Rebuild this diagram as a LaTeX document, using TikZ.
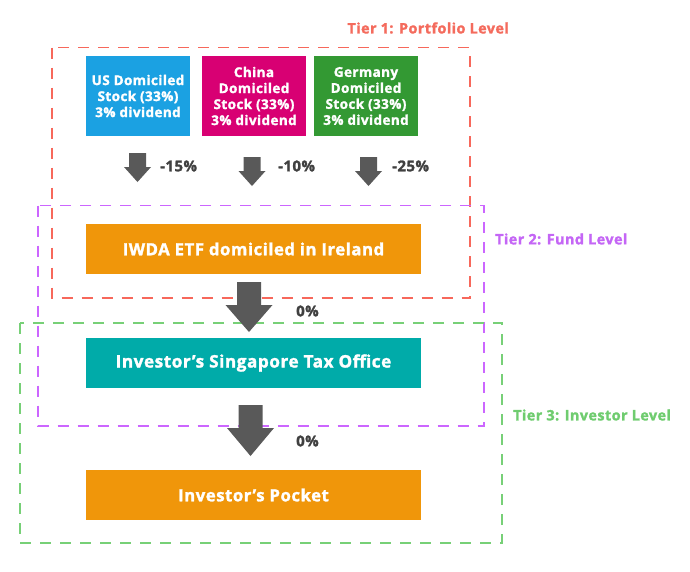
\documentclass[tikz,border=0pt]{standalone}
\usepackage{fontspec}
\setmainfont{Open Sans}[BoldFeatures={FakeBold=1.6, LetterSpace=3}]
\definecolor{tierred}{HTML}{F7685B}
\definecolor{tierpurple}{HTML}{CC66FF}
\definecolor{tiergreen}{HTML}{77D077}
\definecolor{lblred}{HTML}{F46B5D}
\definecolor{lblpurple}{HTML}{C466F5}
\definecolor{lblgreen}{HTML}{6FCC6F}
\definecolor{usblue}{HTML}{1BA1E2}
\definecolor{cnmag}{HTML}{D80073}
\definecolor{degreen}{HTML}{339933}
\definecolor{boxorange}{HTML}{F0960A}
\definecolor{boxteal}{HTML}{00ABA9}
\definecolor{arrowgray}{HTML}{595959}
\definecolor{pctgray}{HTML}{404040}
\tikzset{
  tierbox/.style={line width=1.5pt, dash pattern=on 11pt off 9pt},
  stockbox/.style={minimum width=104pt, minimum height=80pt, inner sep=0pt, text=white,
    font=\bfseries\fontsize{13.5}{16}\selectfont, align=center},
  widebox/.style={minimum width=335pt, minimum height=50pt, inner sep=0pt, text=white,
    font=\bfseries\fontsize{16.8}{19}\selectfont},
  pct/.style={text=pctgray, font=\bfseries\fontsize{15}{17}\selectfont, inner sep=0pt},
  tierlbl/.style={font=\bfseries\fontsize{14.4}{17}\selectfont, inner sep=0pt},
  blockarrow/.style={fill=arrowgray, draw=none}
}
\begin{document}
\begin{tikzpicture}[x=1pt, y=-1pt]
\useasboundingbox (0,0) rectangle (690,571);
% tier boxes
\draw[tierbox, tierred] (52,47.5) rectangle (470,298);
\draw[tierbox, tierpurple] (38,205.5) rectangle (484,426);
\draw[tierbox, tiergreen] (20,323) rectangle (502,543);
% tier labels
\node[tierlbl, text=lblred, anchor=east] (t1) at (509,28) {Tier 1: Portfolio Level};
\node[tierlbl, text=lblpurple, anchor=west] (t2) at (495,239) {Tier 2: Fund Level};
\node[tierlbl, text=lblgreen, anchor=west] (t3) at (513,415) {Tier 3: Investor Level};
% stock boxes
\node[stockbox, fill=usblue] (us) at (138,96) {US Domiciled\\Stock (33\%)\\3\% dividend};
\node[stockbox, fill=cnmag] (cn) at (254,96) {China\\Domiciled\\Stock (33\%)\\3\% dividend};
\node[stockbox, fill=degreen] (de) at (366,96) {Germany\\Domiciled\\Stock (33\%)\\3\% dividend};
% wide boxes
\node[widebox, fill=boxorange] (etf) at (253.5,249) {IWDA ETF domiciled in Ireland};
\node[widebox, fill=boxteal, font=\bfseries\fontsize{17.2}{19}\selectfont] (sg) at (253.5,363) {Investor’s Singapore Tax Office};
\node[widebox, fill=boxorange] (pk) at (253.5,495) {Investor’s Pocket};
% small arrows
\coordinate (a1) at (137.5,153);
\coordinate (a2) at (252,157);
\coordinate (a3) at (368.5,157);
\foreach \c in {a1,a2,a3}{
  \fill[blockarrow] (\c) ++(-8.5,0) -- ++(17,0) -- ++(0,14) -- ++(5,0) -- ++(-13.5,15) -- ++(-13.5,-15) -- ++(5,0) -- cycle;
}
\node[pct, anchor=west] (p1) at (160,166) {-15\%};
\node[pct, anchor=west] (p2) at (278,166) {-10\%};
\node[pct, anchor=west] (p3) at (392,166) {-25\%};
% big arrows
\coordinate (b1) at (249,282);
\coordinate (b2) at (250.5,405);
\fill[blockarrow] (b1) ++(-12,0) -- ++(24,0) -- ++(0,23) -- ++(11.5,0) -- ++(-23.5,27) -- ++(-23.5,-27) -- ++(11.5,0) -- cycle;
\fill[blockarrow] (b2) ++(-12,0) -- ++(24,0) -- ++(0,23) -- ++(11.5,0) -- ++(-23.5,28) -- ++(-23.5,-28) -- ++(11.5,0) -- cycle;
\node[pct, anchor=west] (p4) at (296,311) {0\%};
\node[pct, anchor=west] (p5) at (296,441) {0\%};
\end{tikzpicture}
\end{document}
